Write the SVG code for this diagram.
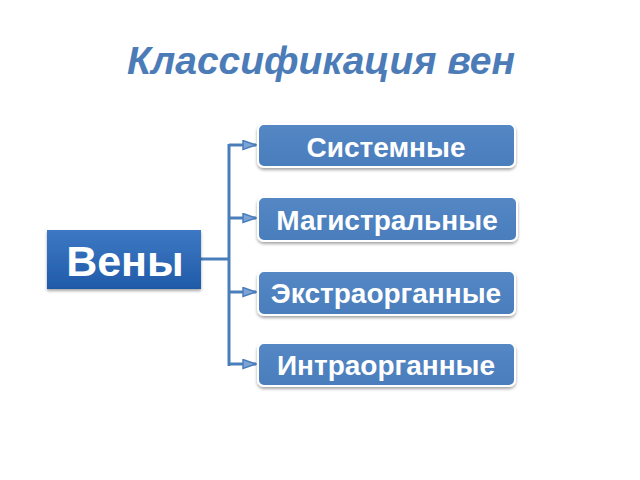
<svg xmlns="http://www.w3.org/2000/svg" width="640" height="480" viewBox="0 0 640 480">
<style>
.t{font-family:"Liberation Sans",Arial,sans-serif;font-weight:bold;fill:#fff;text-anchor:middle}
.box{fill:url(#g2);stroke:#fff;stroke-width:2}
.con{stroke:#4a7ebb;stroke-width:3;fill:none}
</style>
<defs>
<linearGradient id="g1" x1="0" y1="0" x2="0" y2="1">
<stop offset="0" stop-color="#3d78c4"/><stop offset="0.5" stop-color="#2f6ab6"/><stop offset="1" stop-color="#1f5aa8"/>
</linearGradient>
<linearGradient id="g2" x1="0" y1="0" x2="0" y2="1">
<stop offset="0" stop-color="#5487c4"/><stop offset="1" stop-color="#4a7dbc"/>
</linearGradient>
<filter id="sh" x="-10%" y="-20%" width="120%" height="150%">
<feDropShadow dx="0" dy="2" stdDeviation="1.5" flood-color="#000" flood-opacity="0.35"/>
</filter>
<marker id="ar" markerWidth="15" markerHeight="11" refX="14" refY="5.5" orient="auto" markerUnits="userSpaceOnUse" viewBox="0 0 15 11">
<path d="M1,1 L14,5.5 L1,10 Z" fill="#7aa3d6" stroke="#4a7ebb" stroke-width="1.5"/>
</marker>
</defs>
<rect width="640" height="480" fill="#fff"/>
<text x="321" y="74" font-family="'Liberation Sans',Arial,sans-serif" font-size="39" font-weight="bold" font-style="italic" fill="#4c7cb8" text-anchor="middle">Классификация вен</text>
<g id="connectors">
<path class="con" d="M201,259 H229 M229,144 V366"/>
<path class="con" d="M229,145 H256" marker-end="url(#ar)"/>
<path class="con" d="M229,218 H256" marker-end="url(#ar)"/>
<path class="con" d="M229,292 H256" marker-end="url(#ar)"/>
<path class="con" d="M229,364 H256" marker-end="url(#ar)"/>
</g>
<g id="veny">
<rect x="47" y="230" width="154" height="59" fill="url(#g1)" filter="url(#sh)"/>
<text class="t" x="125" y="276" font-size="43">Вены</text>
</g>
<g id="sistemnye">
<rect class="box" x="258" y="124" width="257" height="43" rx="6" filter="url(#sh)"/>
<text class="t" x="386" y="157" font-size="28">Системные</text>
</g>
<g id="magistralnye">
<rect class="box" x="258" y="197" width="259" height="44" rx="6" filter="url(#sh)"/>
<text class="t" x="387" y="230" font-size="28">Магистральные</text>
</g>
<g id="ekstraorgannye">
<rect class="box" x="258" y="271" width="257" height="44" rx="6" filter="url(#sh)"/>
<text class="t" x="386" y="303" font-size="28">Экстраорганные</text>
</g>
<g id="intraorgannye">
<rect class="box" x="258" y="343" width="257" height="43" rx="6" filter="url(#sh)"/>
<text class="t" x="386" y="375" font-size="28">Интраорганные</text>
</g>
</svg>
